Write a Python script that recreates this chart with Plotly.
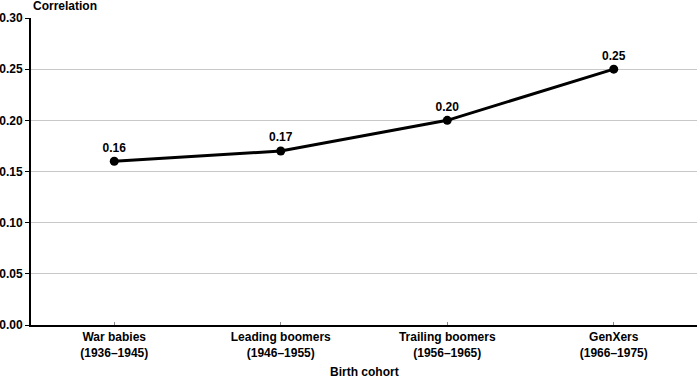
import plotly.graph_objects as go

categories = ["War babies<br>(1936–1945)", "Leading boomers<br>(1946–1955)",
              "Trailing boomers<br>(1956–1965)", "GenXers<br>(1966–1975)"]
values = [0.16, 0.17, 0.20, 0.25]
labels = ["0.16", "0.17", "0.20", "0.25"]
yticks = [0, 0.05, 0.10, 0.15, 0.20, 0.25, 0.30]

font = "Liberation Sans, Arial, sans-serif"

fig = go.Figure()
fig.add_trace(go.Scatter(
    x=list(range(len(categories))), y=values, mode="lines+markers+text",
    line=dict(color="black", width=3), marker=dict(color="black", size=9),
    text=["<b>%s</b>" % t for t in labels], textposition="top center",
    textfont=dict(family=font, size=12, color="black"), cliponaxis=False,
    showlegend=False))

fig.update_layout(
    width=700, height=383, margin=dict(l=31, r=3, t=18, b=58),
    plot_bgcolor="white", paper_bgcolor="white",
    font=dict(family=font, size=12, color="black"),
    xaxis=dict(range=[-0.5, 3.5], tickmode="array", tickvals=list(range(len(categories))),
               ticktext=["<b>%s</b>" % c for c in categories], automargin=False,
               showline=True, linecolor="black", linewidth=2, ticks="inside",
               ticklen=3, tickcolor="#888", showgrid=False, zeroline=False),
    yaxis=dict(range=[0, 0.30], tickvals=yticks, automargin=False,
               ticktext=["<b>%.2f</b>" % v for v in yticks],
               showline=True, linecolor="black", linewidth=2, ticks="outside",
               ticklen=4, tickcolor="black", showgrid=True, gridcolor="#c8c8c8",
               gridwidth=1, zeroline=False),
    annotations=[dict(text="<b>Correlation</b>", x=0, xref="paper", xanchor="left",
                      y=1, yref="paper", yanchor="bottom", yshift=3, xshift=0,
                      showarrow=False, font=dict(size=12)),
                 dict(text="<b>Birth cohort</b>", x=0.5, xref="paper", xanchor="center",
                      y=0, yref="paper", yanchor="top", yshift=-38,
                      showarrow=False, font=dict(size=12))],
)
fig.write_html("out.html", config={"displayModeBar": False},
               post_script="document.body.style.margin='0';")
